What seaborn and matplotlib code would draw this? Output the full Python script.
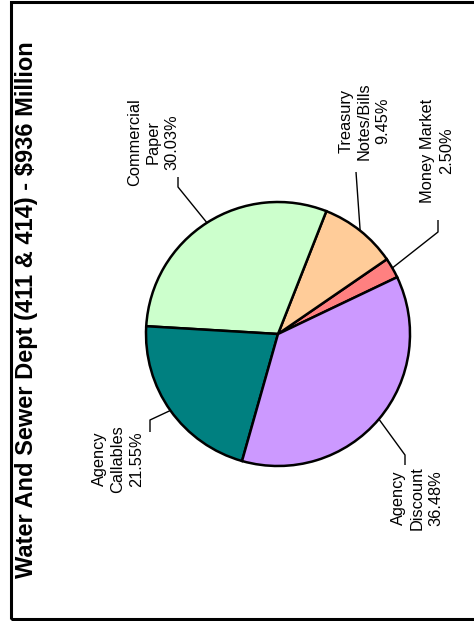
import numpy as np
import matplotlib
matplotlib.use("Agg")
import matplotlib.pyplot as plt
import seaborn as sns
from matplotlib.patches import Rectangle

# Portfolio composition (percent of total)
categories = ["Money Market", "Treasury\nNotes/Bills", "Commercial\nPaper",
              "Agency\nCallables", "Agency\nDiscount"]
shares = [2.50, 9.45, 30.03, 21.55, 36.48]
slice_colors = ["#FF8080", "#FFCC99", "#CCFFCC", "#008080", "#CC99FF"]
title = "Water And Sewer Dept (411 & 414) - $936 Million"

# Layout, in pixels from the top-left corner of the canvas
W, H = 474, 621
pie_center_px = (278, 334)
pie_radius_px = 132
leader_elbow_px = [(438, 232), (356, 172), (178, 187), (150, 420), (405, 455)]
leader_end_px = [(438, 220), (356, 172), (178, 177), (150, 432), (405, 465)]
label_center_px = [(437, 151), (364, 121), (153, 142), (118, 459), (417, 498)]

sns.set_style("white")
plt.rcParams["font.family"] = ["Liberation Sans", "DejaVu Sans"]


def to_data(p):
    return p[0], H - p[1]


fig = plt.figure(figsize=(W / 100, H / 100), dpi=100)
ax = fig.add_axes([0, 0, 1, 1])

cx, cy = to_data(pie_center_px)
wedges, _ = ax.pie(
    shares,
    colors=sns.color_palette(slice_colors),
    startangle=25.5,
    counterclock=True,
    center=(cx, cy),
    radius=pie_radius_px,
    wedgeprops=dict(edgecolor="black", linewidth=1.8),
)
ax.set_xlim(0, W)
ax.set_ylim(0, H)
ax.set_axis_off()

# Leader lines and rotated labels
for wedge, name, share, elbow, end, lab in zip(
        wedges, categories, shares, leader_elbow_px, leader_end_px, label_center_px):
    mid = np.deg2rad((wedge.theta1 + wedge.theta2) / 2)
    sx = cx + pie_radius_px * np.cos(mid)
    sy = cy + pie_radius_px * np.sin(mid)
    ex, ey = to_data(elbow)
    tx, ty = to_data(end)
    ax.plot([sx, ex, tx], [sy, ey, ty], color="black", linewidth=1.0,
            solid_capstyle="butt", zorder=3)
    lx, ly = to_data(lab)
    ax.text(lx, ly, f"{name}\n{share:.2f}%", rotation=90, ha="center",
            va="center", multialignment="center", fontsize=11.8,
            linespacing=1.28, color="black")

# Title
tx, ty = to_data((27, 310))
ax.text(tx, ty, title, rotation=90, ha="center", va="center",
        fontsize=17, fontweight="bold", color="black")

# Outer frame
fx, fy = to_data((11, 619))
ax.add_patch(Rectangle((fx, fy), 480 - fx, 617, fill=False,
                       edgecolor="black", linewidth=2.2, clip_on=False))

fig.savefig("out.png", dpi=100)
